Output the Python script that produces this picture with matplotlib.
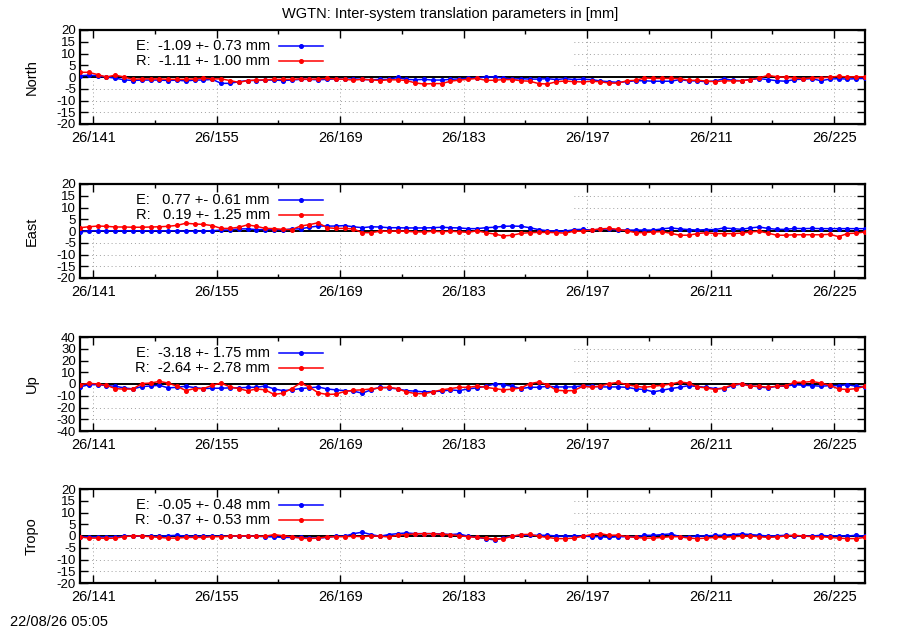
import numpy as np
import matplotlib
matplotlib.use("Agg")
import matplotlib.pyplot as plt
from matplotlib.patches import Rectangle
from matplotlib.ticker import FixedLocator

plt.rcParams['font.family'] = ['Liberation Sans', 'DejaVu Sans']

# day of year (daily solutions, centred at noon)
days = np.arange(140, 230) - 0.5

north_e = [0.5, 0.8, 0.5, 0.0, -0.5, -1.2, -1.5, -1.3, -1.3, -1.3,
           -1.5, -1.3, -1.7, -1.3, -1.3, -1.0, -2.7, -2.7, -2.0, -1.5,
           -1.5, -1.3, -1.3, -1.5, -1.3, -1.0, -1.0, -1.2, -1.0, -0.8,
           -1.0, -0.8, -1.0, -1.2, -1.0, -1.0, -0.2, -1.0, -1.2, -1.0,
           -1.3, -1.3, -1.0, -0.8, -0.6, -0.4, 0.0, 0.0, -0.4, -0.9,
           -0.7, -0.9, -0.9, -0.7, -1.1, -0.7, -1.1, -0.9, -1.1, -1.7,
           -2.0, -2.3, -2.0, -1.6, -1.6, -1.8, -1.8, -1.8, -1.1, -1.6,
           -1.7, -2.0, -1.7, -0.7, -1.4, -1.6, -1.1, -0.7, -1.1, -1.6,
           -1.8, -1.1, -0.9, -0.7, -1.6, -0.9, -0.7, -0.9, -0.7, -0.6]
north_r = [2.0, 2.0, 1.0, 0.0, 0.8, 0.0, -1.0, -0.8, -0.8, -0.8,
           -1.0, -1.0, -1.0, -0.8, -0.5, -0.8, -0.8, -1.5, -2.3, -1.5,
           -1.3, -1.2, -1.0, -1.0, -1.0, -0.8, -1.0, -0.8, -0.6, -0.8,
           -1.0, -1.3, -1.0, -1.2, -1.5, -1.2, -1.2, -1.5, -2.5, -3.0,
           -2.8, -2.8, -1.8, -1.3, -1.0, -0.6, -1.4, -1.4, -1.1, -1.1,
           -1.6, -1.8, -2.8, -3.0, -2.0, -1.7, -2.0, -2.1, -1.8, -2.0,
           -2.6, -2.6, -1.6, -1.4, -0.4, -0.6, -0.6, -0.6, -0.7, -1.4,
           -1.4, -1.7, -2.0, -1.6, -1.7, -1.6, -1.1, -0.4, 0.7, 0.1,
           -0.1, -0.4, -0.7, -0.4, -0.3, -0.1, 0.3, 0.0, 0.1, 0.1]

east_e = [-0.3, 0.1, 0.1, 0.1, 0.1, 0.1, 0.1, 0.1, 0.1, 0.1,
          0.1, 0.1, -0.1, -0.1, 0.1, 0.1, 0.4, 0.4, 0.9, 0.9,
          0.6, 0.6, 0.6, 0.4, 0.9, 0.9, 1.6, 2.1, 2.1, 2.1,
          2.3, 1.8, 1.4, 1.8, 1.7, 1.4, 1.4, 1.3, 1.3, 1.3,
          1.4, 1.6, 1.4, 1.3, 1.0, 1.0, 1.4, 1.6, 2.0, 2.1,
          2.0, 1.4, 0.6, 0.1, 0.0, -0.1, 0.6, 0.7, 0.4, 0.7,
          0.9, 0.4, 0.4, 0.4, 0.4, 0.4, 0.9, 1.3, 0.9, 0.6,
          0.4, 0.6, 0.6, 1.3, 1.0, 0.7, 1.3, 1.7, 1.1, 0.7,
          0.7, 1.1, 1.0, 1.1, 1.0, 1.0, 1.0, 1.0, 1.0, 1.0]
east_r = [1.4, 1.8, 2.1, 2.0, 1.7, 1.7, 1.6, 1.6, 1.7, 1.8,
          2.0, 2.4, 3.3, 3.0, 2.8, 2.3, 1.1, 1.1, 1.6, 2.6,
          2.0, 1.1, 1.0, 0.7, 0.6, 2.1, 2.7, 3.5, 1.4, 1.1,
          1.1, 0.9, -0.7, -0.7, -0.1, -0.1, 0.0, -0.1, -0.4, -0.4,
          -0.1, -0.3, -0.1, -0.3, -0.6, 0.1, -0.7, -1.3, -2.1, -1.8,
          -1.0, -0.7, -0.6, -0.6, -0.7, -0.9, -0.1, -0.1, 0.4, 0.9,
          1.1, 0.7, 0.1, -0.7, -0.7, -0.4, -0.3, -1.0, -1.8, -1.8,
          -1.1, -0.7, -1.1, -1.1, -1.1, -0.9, -0.4, -0.1, -0.9, -1.8,
          -1.8, -1.6, -1.6, -1.6, -1.6, -1.4, -2.4, -1.1, -0.9, -0.4]

up_e = [-2.5, -0.6, -0.6, -1.4, -1.9, -3.3, -4.2, -2.2, -1.7, -1.1,
        -3.3, -2.8, -1.9, -3.1, -3.9, -3.6, -3.6, -3.3, -3.3, -2.8,
        -2.8, -1.7, -4.2, -5.6, -5.0, -3.9, -3.3, -2.5, -4.2, -5.0,
        -5.6, -6.1, -7.8, -5.0, -2.8, -3.3, -4.2, -5.6, -6.1, -6.7,
        -6.4, -6.1, -5.0, -5.6, -4.2, -3.3, -1.9, 0.0, -0.6, -1.9,
        -3.9, -2.8, -2.8, -1.9, -2.5, -2.5, -2.5, -1.4, -1.9, -2.5,
        -2.5, -2.5, -2.8, -4.2, -4.7, -6.7, -5.3, -3.9, -2.8, -1.4,
        -2.2, -2.8, -3.9, -3.9, -1.4, 0.0, -1.4, -2.5, -3.3, -1.9,
        -1.9, -0.6, -1.1, -1.4, -1.9, -1.4, -1.4, -0.6, -1.9, -2.8]
up_r = [-0.6, 0.6, 0.0, -1.1, -3.9, -4.4, -4.2, 0.3, 0.8, 2.2,
        0.8, -1.9, -5.6, -3.9, -3.9, -1.1, 0.8, -2.5, -3.9, -5.8,
        -4.2, -5.0, -8.9, -7.8, -3.9, 0.8, -2.5, -7.5, -8.9, -8.6,
        -6.4, -5.3, -5.0, -4.2, -3.3, -2.8, -3.9, -6.7, -8.1, -8.3,
        -6.7, -5.0, -3.9, -2.8, -2.8, -1.9, -2.8, -3.9, -5.0, -4.4,
        -3.3, 0.3, 1.7, -0.6, -5.3, -5.8, -5.6, -1.9, -2.8, -1.7,
        0.3, 1.4, -0.6, -1.9, -2.8, -1.9, -1.1, 0.0, 1.7, 0.8,
        -2.5, -3.3, -4.7, -3.3, -0.6, 0.3, -1.9, -1.9, -2.8, -1.9,
        -1.4, 1.4, 1.4, 2.2, 0.8, -1.1, -4.2, -4.7, -3.9, -1.9]

tropo_e = [-0.3, -0.4, -0.4, -0.4, -0.3, -0.1, -0.1, -0.1, -0.1, -0.1,
           0.1, 0.3, -0.1, -0.1, -0.1, -0.1, -0.1, -0.1, -0.1, -0.1,
           -0.1, -0.3, -0.4, -0.6, -0.6, -0.6, -0.9, -0.9, -0.6, -0.1,
           -0.1, 1.0, 1.6, 0.6, -0.1, 0.6, 1.0, 1.3, 1.0, 1.0,
           1.0, 0.9, 0.6, 0.9, -0.1, -0.6, -1.1, -1.7, -0.9, 0.0,
           0.3, 0.3, 0.3, 0.3, 0.0, -0.1, 0.0, 0.0, -0.3, -0.3,
           -0.6, -0.3, -0.3, -0.3, 0.3, 0.3, 0.6, 0.9, -0.3, -0.3,
           0.0, 0.0, 0.3, 0.3, 0.6, 0.9, 0.6, 0.3, 0.0, 0.1,
           0.3, 0.1, 0.0, 0.0, 0.3, 0.0, 0.1, 0.0, 0.3, -0.1]
tropo_r = [-0.4, -0.9, -0.9, -1.0, -0.9, -0.3, 0.1, 0.0, -0.3, -0.6,
           -0.9, -0.9, -0.6, -0.6, -0.6, -0.3, -0.3, -0.1, 0.1, 0.0,
           -0.1, -0.1, 0.6, 0.1, -0.3, -0.9, -1.1, -0.9, -0.4, -0.3,
           -0.3, -0.1, -0.3, 0.0, -0.1, -0.4, 0.3, 0.6, 0.9, 1.0,
           1.0, 0.7, 0.6, 0.1, -0.3, -0.6, -0.9, -1.3, -1.1, -0.1,
           0.6, 0.7, -0.1, -0.6, -1.1, -1.1, -0.9, -0.1, 0.6, 1.0,
           0.3, 0.4, -0.3, -0.6, -0.9, -0.9, -0.6, -0.3, -0.3, -0.9,
           -1.1, -0.9, -0.6, -0.6, -0.3, -0.1, 0.0, -0.3, -0.6, -0.4,
           0.0, 0.3, 0.0, -0.3, -0.3, -0.6, -0.9, -1.1, -1.1, -0.6]

panel_names = ['North', 'East', 'Up', 'Tropo']
series_e = [north_e, east_e, up_e, tropo_e]
series_r = [north_r, east_r, up_r, tropo_r]
y_limits = [20, 20, 40, 20]
y_steps = [5, 5, 10, 5]
# legend statistics as printed on the chart: (mean, rms)
stats_e = [(-1.09, 0.73), (0.77, 0.61), (-3.18, 1.75), (-0.05, 0.48)]
stats_r = [(-1.11, 1.00), (0.19, 1.25), (-2.64, 2.78), (-0.37, 0.53)]

major_days = [141, 155, 169, 183, 197, 211, 225]
minor_days = [148, 162, 176, 190, 204, 218]
major_labels = ['26/%d' % d for d in major_days]

title = 'WGTN: Inter-system translation parameters in [mm]'
stamp = '22/08/26 05:05'

fig = plt.figure(figsize=(9, 6.3), dpi=100)
fs = 10.5
fs_y = 9.5

# panel tops in pixels (from top of figure)
tops = [30, 184, 337, 489]
height_px = 94
left_px, right_px = 80, 865

for i, name in enumerate(panel_names):
    bottom = 1 - (tops[i] + height_px) / 630
    ax = fig.add_axes([left_px / 900, bottom, (right_px - left_px) / 900,
                       height_px / 630])
    lim = y_limits[i]
    step = y_steps[i]
    yt = np.arange(-lim, lim + step, step)
    ax.set_xlim(139.5, 228.5)
    ax.set_ylim(-lim, lim)
    ax.set_yticks(yt)
    ax.set_yticklabels(['%d' % v for v in yt], fontsize=fs_y)
    ax.xaxis.set_major_locator(FixedLocator(major_days))
    ax.xaxis.set_minor_locator(FixedLocator(minor_days))
    ax.set_xticklabels(major_labels, fontsize=fs)
    ax.tick_params(axis='both', which='both', direction='in', top=True,
                   right=True, width=1.0)
    ax.tick_params(axis='x', which='major', length=6, pad=5)
    ax.tick_params(axis='x', which='minor', length=3)
    ax.tick_params(axis='y', which='major', length=6, pad=3)
    for sp in ax.spines.values():
        sp.set_linewidth(1.6)

    # dotted grid
    for v in yt[1:-1]:
        if v != 0:
            ax.axhline(v, color='#a0a0a0', lw=0.7, ls=(0, (1, 3)), zorder=0.5)
    for d in major_days:
        ax.axvline(d, color='#a0a0a0', lw=0.7, ls=(0, (1, 3)), zorder=0.5)

    # key box hides the grid behind it
    ax.add_patch(Rectangle((0, 0.46), 0.628, 0.54, transform=ax.transAxes,
                           facecolor='white', edgecolor='none', zorder=1))
    ax.axhline(0, color='black', lw=1.4, zorder=2)

    ax.plot(days, series_e[i], '-o', color='#0000ff', lw=1.1, ms=2.6,
            zorder=3)
    ax.plot(days, series_r[i], '-o', color='#ff0000', lw=1.1, ms=2.6,
            zorder=3)

    # key
    rows = [(0.833, 'E', stats_e[i], '#0000ff'),
            (0.673, 'R', stats_r[i], '#ff0000')]
    for yk, lab, (m, s), col in rows:
        ax.text(0.242, yk, '%s: %6.2f +- %.2f mm' % (lab, m, s),
                transform=ax.transAxes, ha='right', va='center', fontsize=fs,
                zorder=4)
        ax.plot([0.254, 0.309], [yk, yk], color=col, lw=1.1,
                transform=ax.transAxes, zorder=4, clip_on=False)
        ax.plot([0.2815], [yk], 'o', color=col, ms=2.6,
                transform=ax.transAxes, zorder=4, clip_on=False)

    ax.text(-0.061, 0.5, name, transform=ax.transAxes, rotation=90,
            ha='center', va='center', fontsize=fs)

fig.text(0.5, 1 - 14 / 630, title, ha='center', va='center', fontsize=fs)
fig.text(10 / 900, 1 - 622 / 630, stamp, ha='left', va='center', fontsize=fs)

fig.savefig('out.png', dpi=100)
